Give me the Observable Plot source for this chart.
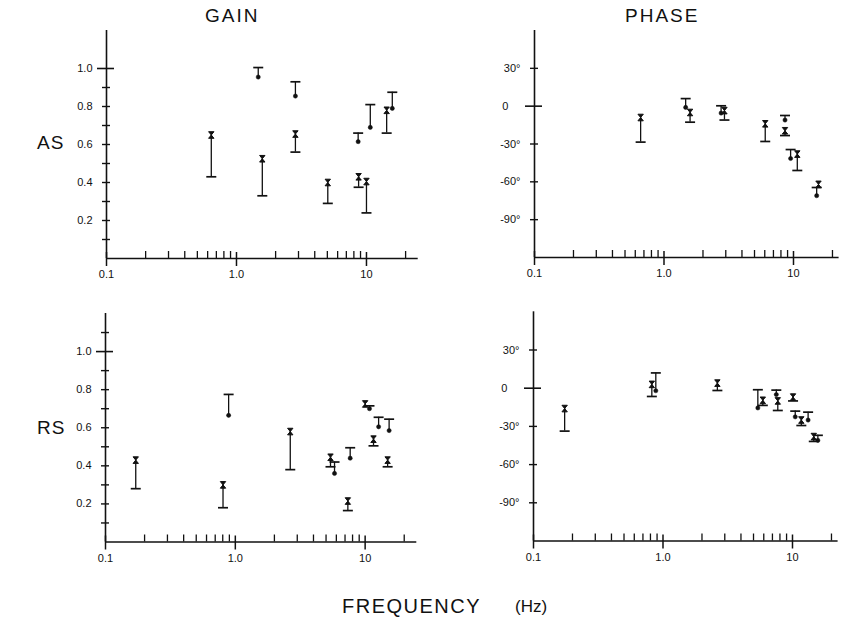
<!DOCTYPE html>
<html><head><meta charset="utf-8">
<script src="https://cdn.jsdelivr.net/npm/d3@7"></script>
<script src="https://cdn.jsdelivr.net/npm/@observablehq/plot@0.6"></script>
<style>
body{margin:0;background:#fff;}
#wrap{position:relative;width:841px;height:624px;background:#fff;font-family:"Liberation Sans","DejaVu Sans",sans-serif;color:#111;overflow:hidden;}
.lbl{position:absolute;white-space:nowrap;line-height:1;}
</style></head><body><div id="wrap">
<div class="lbl" style="left:205px;top:6px;font-size:19px;letter-spacing:2px;">GAIN</div>
<div class="lbl" style="left:625px;top:6px;font-size:19px;letter-spacing:2px;">PHASE</div>
<div class="lbl" style="left:37px;top:133px;font-size:19px;letter-spacing:1px;">AS</div>
<div class="lbl" style="left:37px;top:418px;font-size:19px;letter-spacing:1px;">RS</div>
<div class="lbl" style="left:342px;top:596px;font-size:20px;letter-spacing:1.5px;">FREQUENCY</div>
<div class="lbl" style="left:515px;top:598px;font-size:17px;">(Hz)</div>
</div>
<script>
// ---- tick values ----
const xTickMajor = [0.1, 1, 10];
const xTickMinor = [0.2,0.3,0.4,0.5,0.6,0.7,0.8,0.9,2,3,4,5,6,7,8,9,20];
const gainTicksAS = [0.1,0.2,0.3,0.4,0.5,0.6,0.7,0.8,0.9];
const gainTicksRS = [0.1,0.2,0.3,0.4,0.5,0.6,0.7,0.8,0.9,1.1];
const gainLabels = [0.2,0.4,0.6,0.8,1.0];
const phaseTicks = [30,-30,-60,-90];
const phaseLabels = [30,0,-30,-60,-90];

// ---- AS gain ----
const asGainFreq = [0.64, 1.47, 1.58, 2.84, 2.84, 5.04, 8.63, 8.7, 10.0, 10.7, 14.3, 15.8];
const asGainVal  = [0.65, 0.955, 0.525, 0.855, 0.655, 0.40, 0.615, 0.43, 0.405, 0.69, 0.78, 0.79];
const asGainCap  = [0.43, 1.005, 0.33, 0.93, 0.56, 0.29, 0.66, 0.375, 0.24, 0.81, 0.66, 0.875];
const asGainMark = ["x","o","x","o","x","x","o","x","x","o","x","o"];

// ---- AS phase (deg) ----
const asPhaseFreq = [0.66, 1.47, 1.59, 2.76, 2.93, 6.05, 8.6, 8.6, 9.5, 10.7, 15.6, 15.1];
const asPhaseVal  = [-9, -1, -5, -5.5, -3.5, -14, -11, -19.5, -41.5, -38, -62, -71];
const asPhaseCap  = [-28.5, 6, -12.7, 0.3, -11, -28, -7.4, -23.3, -34.4, -51, null, -64.5];
const asPhaseMark = ["x","o","x","o","x","x","o","x","o","x","x","o"];

// ---- RS gain ----
const rsGainFreq = [0.171, 0.888, 0.804, 2.65, 5.41, 5.81, 7.67, 7.36, 10.0, 10.8, 11.6, 12.7, 15.3, 14.9];
const rsGainVal  = [0.43, 0.665, 0.30, 0.58, 0.445, 0.36, 0.44, 0.215, 0.725, 0.70, 0.54, 0.605, 0.585, 0.43];
const rsGainCap  = [0.28, 0.775, 0.18, 0.38, 0.395, 0.42, 0.495, 0.165, null, 0.715, 0.505, 0.655, 0.645, 0.395];
const rsGainMark = ["x","o","x","x","x","o","o","x","x","o","x","o","o","x"];

// ---- RS phase (deg) ----
const rsPhaseFreq = [0.174, 0.82, 0.88, 2.63, 5.4, 5.9, 7.5, 7.7, 10.1, 10.5, 11.7, 13.2, 14.6, 15.7];
const rsPhaseVal  = [-16, 3, -2, 4, -15.5, -9.5, -5, -10, -7, -22.5, -25, -25, -38, -41];
const rsPhaseCap  = [-33.7, -6.5, 12, -1.8, -1.2, -13.5, -1.5, -17.5, -10, -18, -29.3, -18.8, -41.8, -37];
const rsPhaseMark = ["x","x","o","x","o","x","o","x","x","o","x","o","x","o"];

const rows = (f, v, c, m) => f.map((d, i) => ({f: d, v: v[i], c: c[i], m: m[i]}));

const hourglass = {draw(ctx) { ctx.moveTo(-2.7,-3.3); ctx.lineTo(2.7,-3.3); ctx.lineTo(-2.7,3.3); ctx.lineTo(2.7,3.3); ctx.closePath(); }};
const capBar = {draw(ctx) { ctx.moveTo(-5,0); ctx.lineTo(5,0); }};
const INK = "#111";

function panel(cfg) {
  const data = cfg.data;
  const isPhase = cfg.kind === "phase";
  const yDomain = isPhase ? [-120, 60] : [0, 1.2];
  const marks = [
    Plot.ruleY([yDomain[0]], {stroke: INK, strokeWidth: 1.6}),
    Plot.ruleX([0.1], {stroke: INK, strokeWidth: 1.6}),
    Plot.axisX({ticks: xTickMajor, tickSize: 14, dy: -6, text: null, label: null, stroke: INK, strokeWidth: 1.5}),
    Plot.axisX({ticks: xTickMinor, tickSize: 7, dy: -7, text: null, label: null, stroke: INK, strokeWidth: 1.3}),
    Plot.axisX({ticks: xTickMajor, tickSize: 0, tickPadding: 12, fill: INK, label: null,
      tickFormat: d => d === 0.1 ? "0.1" : d === 1 ? "1.0" : String(d)}),
    Plot.axisY({ticks: cfg.yTicks, tickSize: 8, dx: 4, text: null, label: null, stroke: INK, strokeWidth: 1.4}),
    Plot.axisY({ticks: [isPhase ? 0 : 1.0], tickSize: 17, dx: 8, text: null, label: null, stroke: INK, strokeWidth: 1.6}),
    Plot.axisY({ticks: isPhase ? phaseLabels : gainLabels, tickSize: 0, tickPadding: 14, fill: INK, label: null,
      tickFormat: isPhase ? (d => d === 0 ? "0\u2007\u2007" : `${d}°`) : (d => d.toFixed(1))}),
    Plot.ruleX(data.filter(d => d.c != null), {x: "f", y1: "v", y2: "c", stroke: INK, strokeWidth: 1.3}),
    Plot.dot(data.filter(d => d.c != null), {x: "f", y: "c", symbol: capBar, stroke: INK, strokeWidth: 1.7}),
    Plot.dot(data.filter(d => d.m === "o"), {x: "f", y: "v", r: 2.1, fill: INK, stroke: INK, strokeWidth: 0.5}),
    Plot.dot(data.filter(d => d.m === "x"), {x: "f", y: "v", symbol: hourglass, fill: INK, stroke: INK, strokeWidth: 1})
  ];
  const svg = Plot.plot({
    width: cfg.width, height: cfg.height,
    marginLeft: cfg.mL, marginRight: cfg.mR, marginTop: cfg.mT, marginBottom: cfg.mB,
    x: {type: "log", domain: cfg.xDomain, label: null},
    y: {domain: yDomain, label: null},
    style: {fontFamily: "'Liberation Sans','DejaVu Sans',sans-serif", fontSize: "11px", background: "transparent", color: INK, overflow: "visible"},
    marks
  });
  svg.style.position = "absolute";
  svg.style.left = cfg.left + "px";
  svg.style.top = cfg.top + "px";
  svg.style.maxWidth = "none";
  document.getElementById("wrap").appendChild(svg);
}

panel({kind: "gain", data: rows(asGainFreq, asGainVal, asGainCap, asGainMark), yTicks: gainTicksAS,
  left: 0, top: 0, width: 430, height: 290, mL: 106, mR: 12.3, mT: 30, mB: 32, xDomain: [0.1, 25]});
panel({kind: "phase", data: rows(asPhaseFreq, asPhaseVal, asPhaseCap, asPhaseMark), yTicks: phaseTicks,
  left: 430, top: 0, width: 411, height: 290, mL: 104, mR: 2.4, mT: 30, mB: 33, xDomain: [0.1, 22.5]});
panel({kind: "gain", data: rows(rsGainFreq, rsGainVal, rsGainCap, rsGainMark), yTicks: gainTicksRS,
  left: 0, top: 290, width: 430, height: 334, mL: 105, mR: 13.7, mT: 23, mB: 82.5, xDomain: [0.1, 25]});
panel({kind: "phase", data: rows(rsPhaseFreq, rsPhaseVal, rsPhaseCap, rsPhaseMark), yTicks: phaseTicks,
  left: 430, top: 290, width: 411, height: 334, mL: 103, mR: 3.4, mT: 21.3, mB: 83.5, xDomain: [0.1, 22.5]});
</script>
</body></html>
